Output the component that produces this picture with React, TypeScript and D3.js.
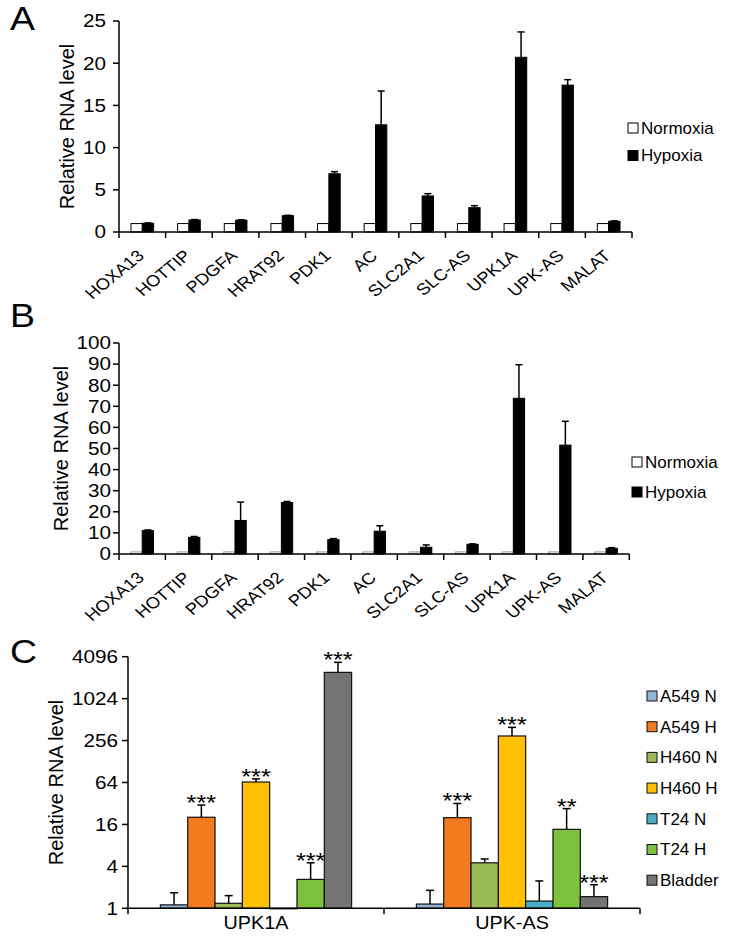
import React from 'react';
import * as d3 from 'd3';

const genes = ['HOXA13', 'HOTTIP', 'PDGFA', 'HRAT92', 'PDK1', 'AC', 'SLC2A1', 'SLC-AS', 'UPK1A', 'UPK-AS', 'MALAT'];
const seriesAB = ['Normoxia', 'Hypoxia'];

const normA = [1, 1, 1, 1, 1, 1, 1, 1, 1, 1, 1];
const hypA = [1.03, 1.42, 1.4, 1.93, 6.9, 12.7, 4.27, 2.88, 20.7, 17.4, 1.27];
const hypAErr = [0.05, 0.05, 0.05, 0.05, 0.25, 4.0, 0.27, 0.24, 3.0, 0.65, 0.05];
const ticksA = [0, 5, 10, 15, 20, 25];

const normB = [1, 1, 1, 1, 1, 1, 1, 1, 1, 1, 1];
const hypB = [11.1, 7.9, 15.9, 24.4, 6.8, 10.8, 3.2, 4.6, 73.8, 51.6, 2.7];
const hypBErr = [0.3, 0.4, 8.7, 0.5, 0.5, 2.6, 1.1, 0.2, 15.9, 11.3, 0.3];
const ticksB = [0, 10, 20, 30, 40, 50, 60, 70, 80, 90, 100];

const groupsC = ['UPK1A', 'UPK-AS'];
const seriesC = ['A549 N', 'A549 H', 'H460 N', 'H460 H', 'T24 N', 'T24 H', 'Bladder'];
const colorsC = ['#95B3D7', '#F37B1D', '#9BBB59', '#FFC000', '#4BACC6', '#7DC13C', '#737373'];
const valuesUPK1A = [1.12, 20.3, 1.18, 65, 1.0, 2.6, 2440];
const errUPK1A = [0.55, 10.1, 0.34, 7, 0, 1.9, 960];
const starsUPK1A = ['', '***', '', '***', '', '***', '***'];
const valuesUPKAS = [1.15, 20, 4.5, 298, 1.27, 13.6, 1.47];
const errUPKAS = [0.66, 12, 0.6, 98, 1.2, 13.4, 0.71];
const starsUPKAS = ['', '***', '', '***', '', '**', '***'];
const ticksC = [1, 4, 16, 64, 256, 1024, 4096];

const FONT = 'Liberation Sans, Arial, Helvetica, sans-serif';
const SX = 1.15;

type PanelProps = {
  label: string;
  labelY: number;
  x0: number; x1: number; y0: number; yTop: number; yMax: number;
  ticks: number[];
  norm: number[]; hyp: number[]; hypErr: number[];
  tickEnd: number;
  yLabelX: number;
  legendX: number; legendY: number; legendGap: number;
  normStroke: string;
};

function BarPanel(p: PanelProps) {
  const x = d3.scaleBand<string>().domain(genes).range([p.x0, p.x1]).padding(0);
  const y = d3.scaleLinear().domain([0, p.yMax]).range([p.y0, p.yTop]);
  const bw = x.bandwidth() * 0.243;
  const boundaries = d3.range(genes.length + 1).map((i) => p.x0 + i * x.bandwidth());
  return (
    <g>
      <text transform={`translate(10,${p.labelY}) scale(1.1,1)`} fontSize={34} fontFamily={FONT}>{p.label}</text>
      <text transform={`translate(${p.yLabelX},${(p.y0 + p.yTop) / 2}) rotate(-90)`} textAnchor="middle" fontSize={20} fontFamily={FONT}>Relative RNA level</text>
      {genes.map((g, i) => {
        const cx = (x(g) as number) + x.bandwidth() / 2;
        const nTop = y(p.norm[i]);
        const hTop = y(p.hyp[i]);
        const eTop = y(p.hyp[i] + p.hypErr[i]);
        return (
          <g key={g}>
            <rect x={cx - bw} y={nTop} width={bw} height={p.y0 - nTop} fill="#fff" stroke={p.normStroke} strokeWidth={1} />
            <rect x={cx} y={hTop} width={bw} height={p.y0 - hTop} fill="#000" stroke="#000" strokeWidth={1} />
            <line x1={cx + bw / 2} x2={cx + bw / 2} y1={hTop} y2={eTop} stroke="#000" strokeWidth={1.5} />
            <line x1={cx + bw / 2 - 3.5} x2={cx + bw / 2 + 3.5} y1={eTop} y2={eTop} stroke="#000" strokeWidth={1.5} />
            <text transform={`translate(${cx + 3},${p.y0 + 25}) scale(1.15,1) rotate(-43)`} textAnchor="end" fontSize={16} fontFamily={FONT}>{g}</text>
          </g>
        );
      })}
      <line x1={p.x0} x2={p.x0} y1={p.y0} y2={p.yTop} stroke="#000" strokeWidth={1.5} />
      {p.ticks.map((t) => (
        <g key={t}>
          <line x1={p.x0 - 6} x2={p.x0} y1={y(t)} y2={y(t)} stroke="#000" strokeWidth={1.5} />
          <text transform={`translate(${p.tickEnd},${y(t)}) scale(${SX},1)`} dy="0.35em" textAnchor="end" fontSize={18} fontFamily={FONT}>{t}</text>
        </g>
      ))}
      <line x1={p.x0} x2={p.x1} y1={p.y0} y2={p.y0} stroke="#000" strokeWidth={1.5} />
      {boundaries.map((bx, i) => (
        <line key={i} x1={bx} x2={bx} y1={p.y0} y2={p.y0 + 6} stroke="#000" strokeWidth={1.5} />
      ))}
      {seriesAB.map((s, i) => (
        <g key={s} transform={`translate(${p.legendX},${p.legendY + i * p.legendGap})`}>
          <rect x={0} y={-5} width={10} height={10} fill={i === 0 ? '#fff' : '#000'} stroke="#000" strokeWidth={1} />
          <text x={13} y={0} dy="0.35em" fontSize={17} fontFamily={FONT}>{s}</text>
        </g>
      ))}
    </g>
  );
}

function PanelC() {
  const x0 = 128, x1 = 640, y0 = 908.3, yTop = 656.7;
  const x = d3.scaleBand<string>().domain(groupsC).range([x0, x1]).padding(0);
  const y = d3.scaleLog().base(2).domain([1, 4096]).range([y0, yTop]);
  const groupW = x.bandwidth() * 0.747;
  const xs = d3.scaleBand<string>().domain(seriesC).range([0, groupW]).padding(0);
  const data = [
    { g: groupsC[0], v: valuesUPK1A, e: errUPK1A, s: starsUPK1A },
    { g: groupsC[1], v: valuesUPKAS, e: errUPKAS, s: starsUPKAS },
  ];
  return (
    <g>
      <text transform="translate(10,663) scale(1.1,1)" fontSize={34} fontFamily={FONT}>C</text>
      <text transform={`translate(63,${(y0 + yTop) / 2}) rotate(-90)`} textAnchor="middle" fontSize={20} fontFamily={FONT}>Relative RNA level</text>
      {data.map((d) => {
        const gx = (x(d.g) as number) + (x.bandwidth() - groupW) / 2;
        return (
          <g key={d.g}>
            {seriesC.map((s, i) => {
              const bx = gx + (xs(s) as number);
              const top = y(d.v[i]);
              const eTop = y(d.v[i] + d.e[i]);
              const cx = bx + xs.bandwidth() / 2;
              return (
                <g key={s}>
                  <rect x={bx} y={top} width={xs.bandwidth()} height={Math.max(y0 - top, 0.5)} fill={colorsC[i]} stroke="#111" strokeWidth={1.2} />
                  {d.e[i] > 0 && (
                    <g>
                      <line x1={cx} x2={cx} y1={top} y2={eTop} stroke="#000" strokeWidth={1.5} />
                      <line x1={cx - 4} x2={cx + 4} y1={eTop} y2={eTop} stroke="#000" strokeWidth={1.5} />
                    </g>
                  )}
                  {d.s[i] && (
                    <text transform={`translate(${cx},${eTop + 5}) scale(1.15,1)`} textAnchor="middle" fontSize={22} fontFamily={FONT}>{d.s[i]}</text>
                  )}
                </g>
              );
            })}
            <text transform={`translate(${(x(d.g) as number) + x.bandwidth() / 2},929) scale(1.1,1)`} textAnchor="middle" fontSize={18} fontFamily={FONT}>{d.g}</text>
          </g>
        );
      })}
      <line x1={x0} x2={x0} y1={y0} y2={yTop} stroke="#000" strokeWidth={1.5} />
      {ticksC.map((t) => (
        <g key={t}>
          <line x1={x0 - 6} x2={x0} y1={y(t)} y2={y(t)} stroke="#000" strokeWidth={1.5} />
          <text transform={`translate(118,${y(t)}) scale(${SX},1)`} dy="0.35em" textAnchor="end" fontSize={18} fontFamily={FONT}>{t}</text>
        </g>
      ))}
      <line x1={x0} x2={x1} y1={y0} y2={y0} stroke="#000" strokeWidth={1.5} />
      {[0, 1, 2].map((i) => (
        <line key={i} x1={x0 + i * x.bandwidth()} x2={x0 + i * x.bandwidth()} y1={y0} y2={y0 + 6} stroke="#000" strokeWidth={1.5} />
      ))}
      {seriesC.map((s, i) => (
        <g key={s} transform={`translate(647,${696 + i * 30.7})`}>
          <rect x={0} y={-5} width={10} height={10} fill={colorsC[i]} stroke="#111" strokeWidth={1} />
          <text x={13} y={0} dy="0.35em" fontSize={17} fontFamily={FONT}>{s}</text>
        </g>
      ))}
    </g>
  );
}

export default function App() {
  return (
    <svg width={735} height={936} style={{ position: 'absolute', left: 0, top: 0, background: '#fff' }}>
      <rect width={735} height={936} fill="#fff" />
      <BarPanel label="A" labelY={30} x0={119} x1={632} y0={232} yTop={21} yMax={25} ticks={ticksA}
        norm={normA} hyp={hypA} hypErr={hypAErr} tickEnd={106} yLabelX={74}
        legendX={628} legendY={128} legendGap={27.5} normStroke="#000" />
      <BarPanel label="B" labelY={327} x0={119} x1={629.3} y0={554} yTop={343} yMax={100} ticks={ticksB}
        norm={normB} hyp={hypB} hypErr={hypBErr} tickEnd={111} yLabelX={68}
        legendX={632} legendY={462} legendGap={30} normStroke="#999" />
      <PanelC />
    </svg>
  );
}
